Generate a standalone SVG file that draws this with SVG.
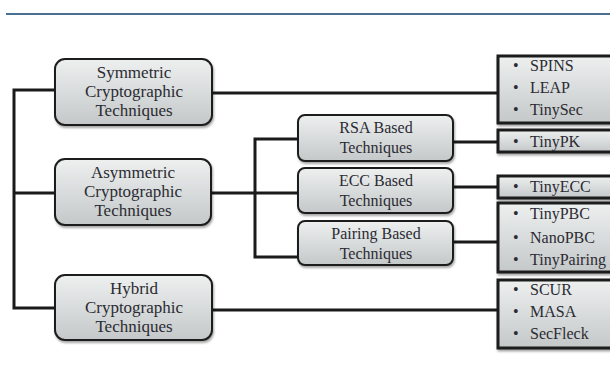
<svg xmlns="http://www.w3.org/2000/svg" width="610" height="378" viewBox="0 0 610 378">
<style>
.box{fill:url(#g);stroke:#1e1e1e;stroke-width:2;filter:url(#sh)}
.list{fill:url(#g);stroke:#1a1a1a;stroke-width:3;filter:url(#sh)}
.t{font-family:"Liberation Serif","Times New Roman",serif;font-size:16px;fill:#2b2b33;text-anchor:middle}
.t17{font-size:17px}
.li{font-family:"Liberation Serif","Times New Roman",serif;font-size:16px;fill:#2b2b33}
.c{fill:none;stroke:#1a1a1a;stroke-width:3}
</style>
<defs>
<linearGradient id="g" x1="0" y1="0" x2="0" y2="1">
<stop offset="0" stop-color="#eef0f0"/>
<stop offset="1" stop-color="#c4c8c8"/>
</linearGradient>
<filter id="sh" x="-10%" y="-10%" width="130%" height="140%">
<feDropShadow dx="1" dy="2" stdDeviation="1.2" flood-color="#000" flood-opacity="0.35"/>
</filter>
</defs>
<rect width="610" height="378" fill="#fff"/>
<line x1="6" y1="14" x2="610" y2="14" stroke="#0d3f6e" stroke-width="1.5"/>
<g id="connectors">
<path class="c" d="M55,90 H14 V308 H55 M14,193 H55"/>
<path class="c" d="M212,93 H497"/>
<path class="c" d="M211,193 H298 M298,139 H255 V257 H298"/>
<path class="c" d="M453,142 H497 M453,187 H497 M453,242 H497"/>
<path class="c" d="M212,310 H497"/>
</g>
<g id="symmetric">
<rect class="box" x="55" y="59" width="157" height="66" rx="10"/>
<text class="t t17" x="134" y="78">Symmetric</text>
<text class="t t17" x="134" y="97">Cryptographic</text>
<text class="t t17" x="134" y="116">Techniques</text>
</g>
<g id="asymmetric">
<rect class="box" x="55" y="159" width="156" height="66" rx="10"/>
<text class="t t17" x="133" y="178">Asymmetric</text>
<text class="t t17" x="133" y="197">Cryptographic</text>
<text class="t t17" x="133" y="216">Techniques</text>
</g>
<g id="hybrid">
<rect class="box" x="55" y="275" width="157" height="65" rx="10"/>
<text class="t t17" x="134" y="294">Hybrid</text>
<text class="t t17" x="134" y="313">Cryptographic</text>
<text class="t t17" x="134" y="332">Techniques</text>
</g>
<g id="rsa">
<rect class="box" x="298" y="115" width="155" height="46" rx="7"/>
<text class="t" x="376" y="133">RSA Based</text>
<text class="t" x="376" y="153">Techniques</text>
</g>
<g id="ecc">
<rect class="box" x="298" y="168" width="155" height="45" rx="7"/>
<text class="t" x="376" y="186">ECC Based</text>
<text class="t" x="376" y="206">Techniques</text>
</g>
<g id="pairing">
<rect class="box" x="298" y="221" width="155" height="44" rx="7"/>
<text class="t" x="376" y="239">Pairing Based</text>
<text class="t" x="376" y="259">Techniques</text>
</g>
<g id="list-symmetric">
<rect class="list" x="498" y="56" width="130" height="67"/>
<text class="li" x="513" y="71">•</text><text class="li" x="530" y="71">SPINS</text>
<text class="li" x="513" y="93">•</text><text class="li" x="530" y="93">LEAP</text>
<text class="li" x="513" y="115">•</text><text class="li" x="530" y="115">TinySec</text>
</g>
<g id="list-rsa">
<rect class="list" x="498" y="130" width="130" height="22"/>
<text class="li" x="513" y="147">•</text><text class="li" x="530" y="147">TinyPK</text>
</g>
<g id="list-ecc">
<rect class="list" x="498" y="176" width="130" height="22"/>
<text class="li" x="513" y="192">•</text><text class="li" x="530" y="192">TinyECC</text>
</g>
<g id="list-pairing">
<rect class="list" x="498" y="203" width="130" height="69"/>
<text class="li" x="513" y="219">•</text><text class="li" x="530" y="219">TinyPBC</text>
<text class="li" x="513" y="243">•</text><text class="li" x="530" y="243">NanoPBC</text>
<text class="li" x="513" y="265">•</text><text class="li" x="530" y="265">TinyPairing</text>
</g>
<g id="list-hybrid">
<rect class="list" x="498" y="280" width="130" height="68"/>
<text class="li" x="513" y="295">•</text><text class="li" x="530" y="295">SCUR</text>
<text class="li" x="513" y="317">•</text><text class="li" x="530" y="317">MASA</text>
<text class="li" x="513" y="339">•</text><text class="li" x="530" y="339">SecFleck</text>
</g>
</svg>
